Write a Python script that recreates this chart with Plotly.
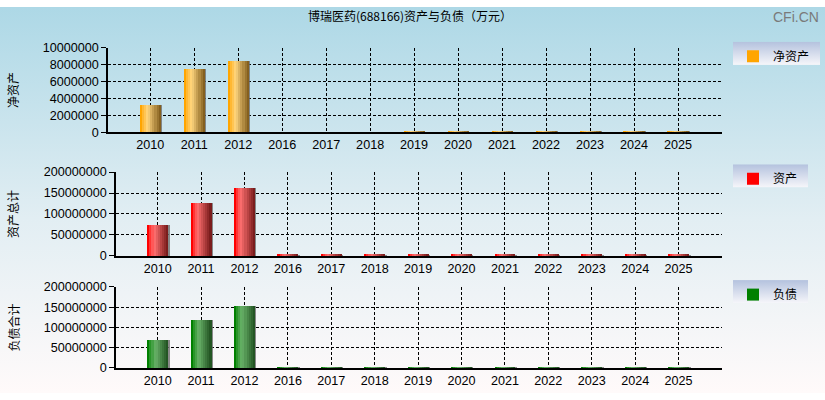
import base64
import plotly.graph_objects as go

# ---------------- data ----------------
years = ["2010", "2011", "2012", "2016", "2017", "2018", "2019",
         "2020", "2021", "2022", "2023", "2024", "2025"]
net_assets = [3330000, 7550000, 8440000, 95000, 100000, 105000, 130000,
              140000, 150000, 240000, 245000, 250000, 255000]
total_assets = [73700000, 126000000, 163000000, 2300000, 2400000, 2500000, 2600000,
                2600000, 2700000, 2800000, 2800000, 2900000, 2900000]
total_liabilities = [69500000, 119000000, 152600000, 2000000, 2100000, 2200000, 2200000,
                     2300000, 2300000, 2400000, 2400000, 2500000, 2500000]

title_text = "博瑞医药(688166)资产与负债（万元）"
series_names = ["净资产", "资产", "负债"]
axis_titles = ["净资产", "资产总计", "负债合计"]

# ---------------- styling ----------------
W, H = 825, 400
CJK = "Noto Sans CJK SC"
NUM = "Liberation Sans"

gradients = [
    [(0.0, (255, 165, 0)), (0.38, (255, 214, 128)), (1.0, (122, 86, 22))],
    [(0.0, (255, 0, 0)), (0.32, (255, 112, 112)), (1.0, (112, 22, 22))],
    [(0.0, (0, 128, 0)), (0.38, (105, 178, 105)), (1.0, (30, 78, 30))],
]


def grad_color(stops, t):
    for (t0, c0), (t1, c1) in zip(stops[:-1], stops[1:]):
        if t <= t1:
            f = (t - t0) / (t1 - t0) if t1 > t0 else 0
            c = [round(a + (b - a) * f) for a, b in zip(c0, c1)]
            return "rgb(%d,%d,%d)" % tuple(c)
    return "rgb(%d,%d,%d)" % stops[-1][1]


def svg_uri(svg):
    return "data:image/svg+xml;base64," + base64.b64encode(svg.encode()).decode()


bg_svg = ("<svg xmlns='http://www.w3.org/2000/svg' width='825' height='400' preserveAspectRatio='none'>"
          "<defs><linearGradient id='g' x1='0' y1='0' x2='0' y2='1'>"
          "<stop offset='0' stop-color='#ADD8E6'/><stop offset='0.55' stop-color='#E2EEF3'/>"
          "<stop offset='1' stop-color='#FFFAFA'/></linearGradient></defs>"
          "<rect width='100%' height='100%' fill='url(#g)'/></svg>")
box_svg = ("<svg xmlns='http://www.w3.org/2000/svg' width='100' height='24' preserveAspectRatio='none'>"
           "<defs><linearGradient id='g' x1='0' y1='0' x2='0' y2='1'>"
           "<stop offset='0' stop-color='#B4C2DE'/><stop offset='1' stop-color='#F6F6FA'/>"
           "</linearGradient></defs><rect width='100%' height='100%' fill='url(#g)'/></svg>")

fig = go.Figure()

series = [net_assets, total_assets, total_liabilities]
xidx = list(range(len(years)))
N = 10
bw = 0.48
axes_suffix = ["", "2", "3"]
legend_ids = ["legend", "legend2", "legend3"]
for k, vals in enumerate(series):
    for i in range(N):
        t = 0.0 if i == 0 else (i + 0.5) / N
        fig.add_trace(go.Bar(
            x=xidx, y=vals, width=bw / N, offset=-bw / 2 + i * bw / N,
            marker=dict(color=grad_color(gradients[k], t), line=dict(width=0)),
            name=series_names[k], showlegend=(i == 0), legend=legend_ids[k],
            xaxis="x" + axes_suffix[k], yaxis="y" + axes_suffix[k],
            hoverinfo="x+y" if i == 0 else "skip",
        ))
    # slight grey shadow on right side
    fig.add_trace(go.Bar(
        x=xidx, y=vals, width=0.035, offset=bw / 2,
        marker=dict(color="rgba(110,110,110,0.8)", line=dict(width=0)),
        showlegend=False, hoverinfo="skip",
        xaxis="x" + axes_suffix[k], yaxis="y" + axes_suffix[k],
    ))

# domains in pixels
x_doms = [(108, 722), (116, 722), (116, 722)]
y_doms = [(42, 130), (171, 258), (290, 374)]
y_ranges = [(0, 10000000, 2000000), (0, 200000000, 50000000), (0, 200000000, 50000000)]

tickvals = list(range(len(years) + 1))
ticktext = years + [""]

layout = dict(
    width=W, height=H,
    margin=dict(l=0, r=0, t=0, b=0),
    paper_bgcolor="white", plot_bgcolor="rgba(0,0,0,0)",
    barmode="overlay", bargap=0,
    showlegend=True,
    title=dict(text=title_text, x=410 / W, xanchor="center", y=1 - 17 / H, yanchor="middle",
               font=dict(family=CJK, size=12, color="black")),
    images=[dict(source=svg_uri(bg_svg), xref="paper", yref="paper", x=0, y=1,
                 sizex=1, sizey=1, sizing="stretch", layer="below")],
    annotations=[],
)

legend_boxes = [(733, 820, 36, 60), (733, 808, 163, 187), (733, 808, 283, 307)]
for k in range(3):
    s = axes_suffix[k]
    x0, x1 = x_doms[k]
    yt, yb = y_doms[k]
    lo, hi, dt = y_ranges[k]
    layout["xaxis" + s] = dict(
        domain=[x0 / W, x1 / W], anchor="y" + s, range=[-0.96, 13],
        tickmode="array", tickvals=tickvals, ticktext=ticktext,
        showgrid=True, gridcolor="black", gridwidth=1, griddash="3px,2px",
        showline=True, linecolor="black", linewidth=1.5, ticks="",
        tickfont=dict(family=NUM, size=12.6, color="black"), zeroline=False,
        fixedrange=True,
    )
    layout["yaxis" + s] = dict(
        domain=[1 - yb / H, 1 - yt / H], anchor="x" + s, range=[lo, hi],
        tick0=0, dtick=dt, tickformat="d",
        showgrid=True, gridcolor="black", gridwidth=1, griddash="3px,2px",
        showline=True, linecolor="black", linewidth=1.5,
        ticks="outside", ticklen=5, tickcolor="black",
        tickfont=dict(family=NUM, size=12.6, color="black"), zeroline=False,
        fixedrange=True,
    )
    bx0, bx1, by0, by1 = legend_boxes[k]
    layout["images"].append(dict(source=svg_uri(box_svg), xref="paper", yref="paper",
                                 x=bx0 / W, y=1 - by0 / H, sizex=(bx1 - bx0) / W,
                                 sizey=(by1 - by0) / H, sizing="stretch", layer="below"))
    layout[legend_ids[k]] = dict(
        x=bx0 / W, xanchor="left", y=1 - by0 / H, yanchor="top",
        bgcolor="rgba(0,0,0,0)", borderwidth=0,
        font=dict(family=CJK, size=12, color="black"),
        tracegroupgap=0, itemclick=False, itemdoubleclick=False,
    )
    layout["annotations"].append(dict(
        text=axis_titles[k], textangle=-90, xref="paper", yref="paper",
        x=13 / W, y=1 - (yt + yb) / 2 / H, xanchor="center", yanchor="middle",
        showarrow=False, font=dict(family=CJK, size=12, color="black"),
    ))

layout["annotations"].append(dict(
    text="CFi.CN", xref="paper", yref="paper", x=821 / W, y=1 - 10 / H,
    xanchor="right", yanchor="middle", showarrow=False,
    font=dict(family=NUM, size=14, color="#7a7a7a"),
))

fig.update_layout(**layout)
fig.write_html("out.html", config={"displayModeBar": False},
               post_script="document.body.style.margin='0';document.body.style.overflow='hidden';")
